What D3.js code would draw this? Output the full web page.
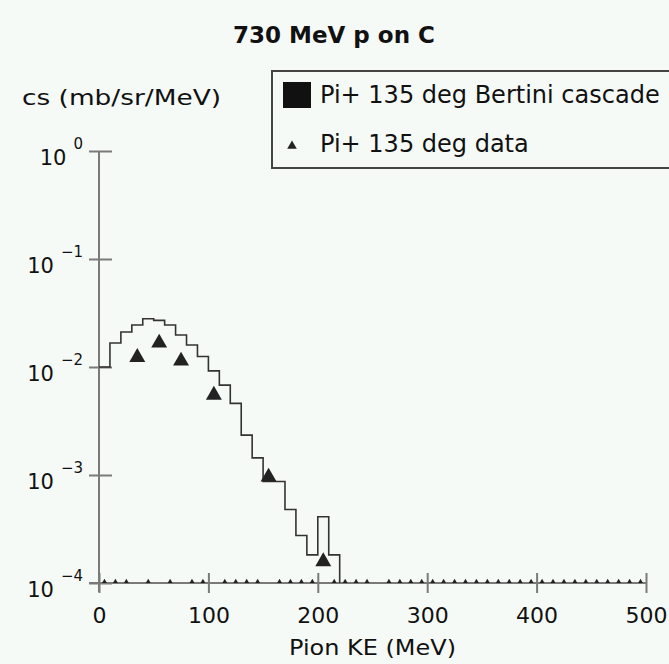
<!DOCTYPE html>
<html><head><meta charset="utf-8">
<script src="https://cdn.jsdelivr.net/npm/d3@7"></script>
<style>
html,body{margin:0;padding:0;background:#f6faf7;}
svg{display:block;font-family:"DejaVu Sans",sans-serif;}
</style></head>
<body>
<script>
// ---- data ----
const title = "730 MeV p on C";
const xLabel = "Pion KE (MeV)";
const yLabel = "cs (mb/sr/MeV)";
const seriesNames = ["Pi+ 135 deg Bertini cascade", "Pi+ 135 deg data"];
const xTicks = [0, 100, 200, 300, 400, 500];
const yTicks = [1, 0.1, 0.01, 0.001, 0.0001];
const yTickExps = ["0", "\u22121", "\u22122", "\u22123", "\u22124"];
// histogram (Bertini cascade), 10 MeV bins starting at 0
const binEdges = [0,10,20,30,40,50,60,70,80,90,100,110,120,130,140,150,160,170,180,190,200,210,220];
const binValues = [0.0100,0.0167,0.0211,0.0245,0.0280,0.0270,0.0245,0.0198,0.0160,0.0125,0.0092,0.0068,0.0046,0.00234,0.00144,0.00087,0.00087,0.00048,0.000275,0.000182,0.00041,0.000182];
// measured data points
const dataX = [35, 55, 75, 105, 155, 205];
const dataY = [0.0123, 0.0167, 0.0114, 0.0055, 0.00096, 0.000158];
// points lying below the plotted range (shown clipped on the axis)
const lowX = [5,15,25,45,65,85,95,115,125,135,145,165,175,185,195,215,225,235,245,265,275,285,295,305,315,325,335,345,355,365,375,385,395,405,415,425,435,445,455,465,475,485,495];
const lowY = 0.00009;

const W = 669, H = 664;
const svg = d3.select("body").append("svg").attr("width", W).attr("height", H);
svg.append("rect").attr("width", W).attr("height", H).attr("fill", "#f6faf7");

const x = d3.scaleLinear().domain([0, 500]).range([99, 646]);
const y = d3.scaleLog().domain([1e-4, 1]).range([583, 151]);

svg.append("defs").append("clipPath").attr("id", "plot")
  .append("rect").attr("x", x(0)).attr("y", y(1)).attr("width", x(500) - x(0)).attr("height", y(1e-4) - y(1));

// title
svg.append("text").attr("x", 334).attr("y", 43).attr("text-anchor", "middle")
  .attr("font-size", 23).attr("font-weight", "bold").attr("fill", "#111").text(title);
// y label
svg.append("text").attr("x", 22).attr("y", 105).attr("font-size", 21)
  .attr("textLength", 199).attr("lengthAdjust", "spacingAndGlyphs")
  .attr("fill", "#111").text(yLabel);
// x label
svg.append("text").attr("x", (x(0) + x(500)) / 2).attr("y", 655).attr("text-anchor", "middle")
  .attr("font-size", 22).attr("textLength", 167).attr("lengthAdjust", "spacingAndGlyphs")
  .attr("fill", "#111").text(xLabel);

// axes
const axisColor = "#7a7a7a";
const gx = svg.append("g").attr("transform", `translate(0,${y(1e-4)})`)
  .call(d3.axisBottom(x).tickValues(xTicks).tickSize(10).tickFormat(""));
gx.select(".domain").attr("d", `M${x(0) - 10},0H${x(500)}`).attr("stroke", axisColor).attr("stroke-width", 2);
gx.selectAll(".tick line").attr("y1", -10).attr("y2", 10).attr("stroke", axisColor).attr("stroke-width", 2);
gx.selectAll(".tick").append("text").attr("y", 40).attr("fill", "#111")
  .attr("font-size", 22).attr("font-family", "DejaVu Sans").attr("text-anchor", "middle")
  .text(d => d);

const gy = svg.append("g").attr("transform", `translate(${x(0)},0)`)
  .call(d3.axisLeft(y).tickValues(yTicks).tickSize(10).tickFormat(""));
gy.select(".domain").attr("d", `M0,${y(1)}V${y(1e-4) + 9}`).attr("stroke", axisColor).attr("stroke-width", 2);
gy.selectAll(".tick line").attr("x1", -10).attr("x2", 13).attr("stroke", axisColor).attr("stroke-width", 2);
gy.selectAll(".tick").each(function(d, i) {
  const t = d3.select(this).append("text").attr("x", -16).attr("y", 13)
    .attr("text-anchor", "end").attr("fill", "#111").attr("font-family", "DejaVu Sans");
  t.append("tspan").attr("font-size", 21).text("10");
  t.append("tspan").attr("font-size", 15).attr("dx", 7).attr("dy", -16).text(yTickExps[i]);
});

// histogram
const plot = svg.append("g").attr("clip-path", "url(#plot)");
let pts = [];
binValues.forEach((v, i) => { pts.push([binEdges[i], v]); pts.push([binEdges[i + 1], v]); });
pts.push([binEdges[binEdges.length - 1], 1e-6]);
plot.append("path")
  .attr("d", d3.line().x(d => x(d[0])).y(d => y(d[1]))(pts))
  .attr("fill", "none").attr("stroke", "#333").attr("stroke-width", 1.6);

// data triangles
const tri = d3.symbol().type(d3.symbolTriangle).size(110);
plot.selectAll(".low").data(lowX).join("path").attr("class", "low")
  .attr("d", tri).attr("transform", d => `translate(${x(d)},${y(lowY)})`).attr("fill", "#222");
plot.selectAll(".pt").data(dataX).join("path").attr("class", "pt")
  .attr("d", tri).attr("transform", (d, i) => `translate(${x(d)},${y(dataY[i])})`).attr("fill", "#222");

// legend
const lg = svg.append("g");
lg.append("rect").attr("x", 272).attr("y", 71).attr("width", 420).attr("height", 97)
  .attr("fill", "#f6faf7").attr("stroke", "#444").attr("stroke-width", 2);
lg.append("rect").attr("x", 283).attr("y", 82).attr("width", 28).attr("height", 26).attr("fill", "#111");
lg.append("text").attr("x", 320).attr("y", 103).attr("font-size", 24).attr("fill", "#111").text(seriesNames[0]);
lg.append("path").attr("d", d3.symbol().type(d3.symbolTriangle).size(40))
  .attr("transform", "translate(292,146)").attr("fill", "#222");
lg.append("text").attr("x", 320).attr("y", 152).attr("font-size", 24).attr("fill", "#111").text(seriesNames[1]);
</script>
</body></html>
